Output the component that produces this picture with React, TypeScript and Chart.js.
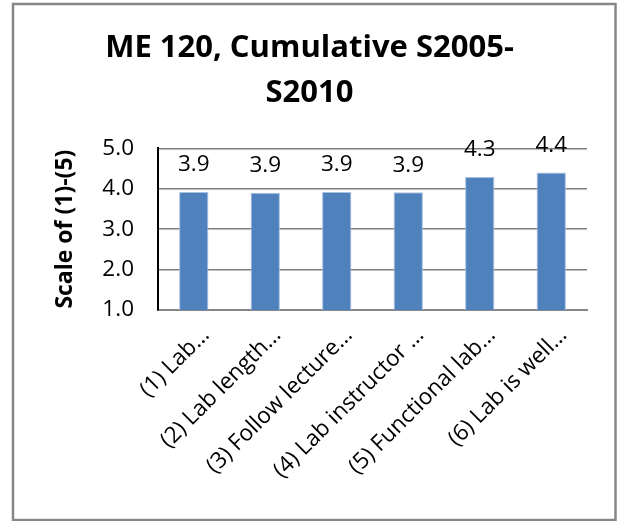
import { useEffect, useRef } from "react";
import { Chart, registerables } from "chart.js";

Chart.register(...registerables);

const categories = [
  "(1) Lab…",
  "(2) Lab length…",
  "(3) Follow lecture…",
  "(4) Lab instructor …",
  "(5) Functional lab…",
  "(6) Lab is well…",
];
const scores = [3.92, 3.9, 3.92, 3.91, 4.29, 4.4];
const yMin = 1;
const yMax = 5;
const yStep = 1;
const titleLines = ["ME 120, Cumulative S2005-", "S2010"];
const yAxisTitle = "Scale of (1)-(5)";

const FONT = "'Open Sans', 'DejaVu Sans', sans-serif";

// Grey frame around the whole chart
const framePlugin = {
  id: "frame",
  beforeDraw(chart: any) {
    const { ctx, width, height } = chart;
    ctx.save();
    ctx.fillStyle = "#ffffff";
    ctx.fillRect(0, 0, width, height);
    ctx.restore();
  },
  afterDraw(chart: any) {
    const ctx = chart.ctx;
    ctx.save();
    ctx.strokeStyle = "#878787";
    ctx.lineWidth = 2.5;
    ctx.strokeRect(13, 4, 602.5, 516);
    ctx.restore();
  },
};

// Value printed above each bar
const valueLabelPlugin = {
  id: "valueLabels",
  afterDatasetsDraw(chart: any) {
    const { ctx } = chart;
    const meta = chart.getDatasetMeta(0);
    const data = chart.data.datasets[0].data as number[];
    ctx.save();
    ctx.font = `22.5px ${FONT}`;
    ctx.fillStyle = "#000000";
    ctx.textAlign = "center";
    ctx.textBaseline = "middle";
    meta.data.forEach((bar: any, i: number) => {
      ctx.fillText(data[i].toFixed(1), bar.x, bar.y - 27);
    });
    ctx.restore();
  },
};

export default function App() {
  const canvasRef = useRef<HTMLCanvasElement | null>(null);

  useEffect(() => {
    const canvas = canvasRef.current;
    if (!canvas) return;
    const chart = new Chart(canvas, {
      type: "bar",
      data: {
        labels: categories,
        datasets: [
          {
            data: scores,
            backgroundColor: "#4F81BD",
            borderColor: "#A9C1E0",
            borderWidth: 1,
            barPercentage: 0.41,
            categoryPercentage: 1,
          },
        ],
      },
      options: {
        responsive: false,
        animation: false,
        devicePixelRatio: 1,
        layout: { padding: { left: 3, right: 3, top: 4, bottom: 1 } },
        plugins: {
          legend: { display: false },
          tooltip: { enabled: false },
          title: {
            display: true,
            text: titleLines,
            color: "#000000",
            font: { family: FONT, size: 31, weight: "bold", lineHeight: 1.44 },
            padding: { top: 22, bottom: 33 },
          },
        },
        scales: {
          x: {
            grid: { display: false, drawTicks: false },
            border: { display: true, color: "#868686", width: 2 },
            ticks: {
              color: "#000000",
              font: { family: FONT, size: 22.5 },
              minRotation: 45,
              maxRotation: 45,
              autoSkip: false,
              padding: 12,
              labelOffset: 12,
            },
            afterFit(scale: any) {
              scale.height = 210;
            },
          },
          y: {
            min: yMin,
            max: yMax,
            grid: { color: "#7f7f7f", lineWidth: 1.5, drawTicks: false },
            border: { display: true, color: "#000000", width: 2 },
            ticks: {
              stepSize: yStep,
              color: "#000000",
              font: { family: FONT, size: 22.5 },
              padding: 24,
              callback: (v: any) => Number(v).toFixed(1),
            },
            title: {
              display: true,
              text: yAxisTitle,
              color: "#000000",
              font: { family: FONT, size: 23, weight: "bold" },
              padding: { top: 49, bottom: 0 },
            },
            afterFit(scale: any) {
              scale.width = 155;
            },
          },
          spacer: {
            type: "linear",
            position: "right",
            display: true,
            grid: { display: false, drawTicks: false },
            border: { display: false },
            ticks: { display: false },
            afterFit(scale: any) {
              scale.width = 29;
            },
          },
        },
      },
      plugins: [framePlugin, valueLabelPlugin],
    } as any);
    return () => chart.destroy();
  }, []);

  return (
    <canvas
      ref={canvasRef}
      width={619}
      height={521}
      style={{ position: "fixed", left: 0, top: 0, width: 619, height: 521 }}
    />
  );
}
